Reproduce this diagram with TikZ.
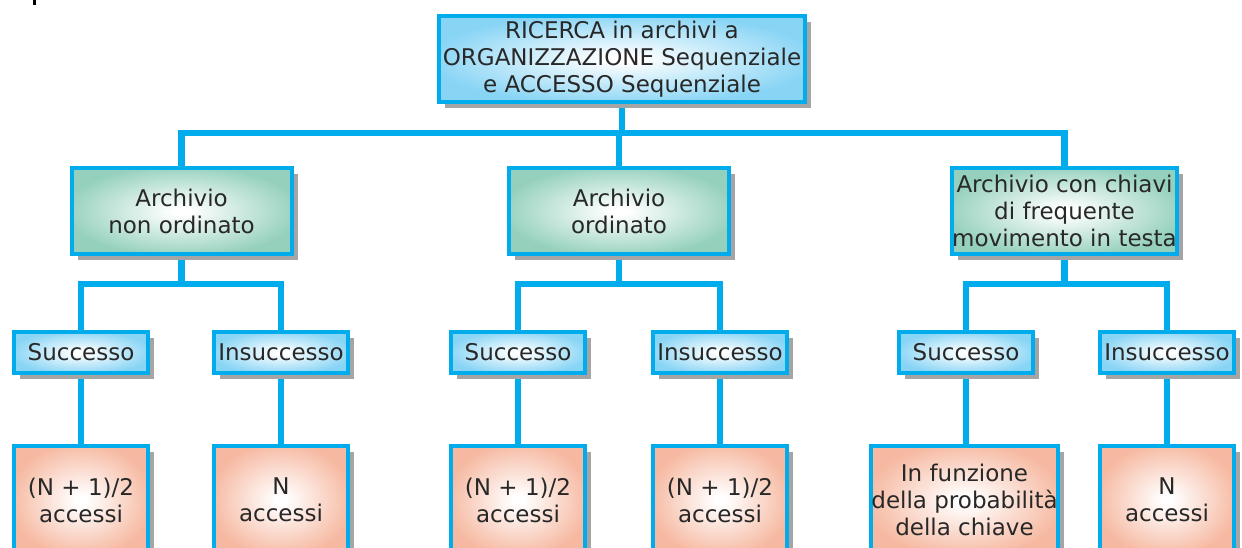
\documentclass[tikz,border=0pt]{standalone}
\usepackage{fontspec}
\setmainfont{DejaVu Sans}
\usetikzlibrary{shadows,backgrounds}

\definecolor{linkblue}{RGB}{0,172,236}
\definecolor{headfill}{RGB}{135,212,245}
\definecolor{catfill}{RGB}{148,208,188}
\definecolor{outfill}{RGB}{246,184,160}
\definecolor{shadowgray}{RGB}{165,165,165}
\definecolor{ink}{RGB}{40,40,40}

% soft white glow in the middle of each box
\pgfdeclareradialshading{glowhead}{\pgfpoint{0bp}{0bp}}{color(0bp)=(white); color(2bp)=(white); color(27bp)=(headfill); color(50bp)=(headfill)}
\pgfdeclareradialshading{glowcat}{\pgfpoint{0bp}{0bp}}{color(0bp)=(white); color(2bp)=(white); color(27bp)=(catfill); color(50bp)=(catfill)}
\pgfdeclareradialshading{glowout}{\pgfpoint{0bp}{0bp}}{color(0bp)=(white); color(2bp)=(white); color(27bp)=(outfill); color(50bp)=(outfill)}

\tikzset{
  box/.style={draw=linkblue, line width=4pt, align=center,
    inner sep=0pt, text=ink, font=\fontsize{23}{27}\selectfont,
    drop shadow={shadow xshift=6pt, shadow yshift=-6pt, fill=shadowgray, opacity=1}},
  headbox/.style={box, shading=glowhead, minimum width=366pt, minimum height=86pt},
  catbox/.style={box, shading=glowcat, minimum width=220pt, minimum height=86pt},
  casebox/.style={box, shading=glowhead, minimum width=134pt, minimum height=41pt},
  costbox/.style={box, shading=glowout, minimum width=134pt, minimum height=108pt},
  conn/.style={draw=linkblue, line width=6.5pt},
}

\begin{document}
\begin{tikzpicture}[x=1pt, y=-1pt]
  \useasboundingbox (0,0) rectangle (1242,548);
  \clip (0,0) rectangle (1242,548);
  \fill[black] (33,0) rectangle (36,5);

  % root
  \node[headbox] (root) at (622,59) {RICERCA in archivi a\\ORGANIZZAZIONE Sequenziale\\e ACCESSO Sequenziale};

  % file categories
  \node[catbox] (catA) at (181.5,211) {Archivio\\non ordinato};
  \node[catbox] (catB) at (619,211) {Archivio\\ordinato};
  \node[catbox] (catC) at (1064.5,211) {Archivio con chiavi\\di frequente\\movimento in testa};

  % outcomes
  \node[casebox] (sA) at (81,352.5) {Successo};
  \node[casebox] (iA) at (281,352.5) {Insuccesso};
  \node[casebox] (sB) at (518,352.5) {Successo};
  \node[casebox] (iB) at (720,352.5) {Insuccesso};
  \node[casebox] (sC) at (966,352.5) {Successo};
  \node[casebox] (iC) at (1167,352.5) {Insuccesso};

  % access costs
  \node[costbox] (csA) at (81,500) {(N + 1)/2\\accessi};
  \node[costbox] (ciA) at (281,500) {N\\accessi};
  \node[costbox] (csB) at (518,500) {(N + 1)/2\\accessi};
  \node[costbox] (ciB) at (720,500) {(N + 1)/2\\accessi};
  \node[costbox, minimum width=187pt] (csC) at (964.5,500) {In funzione\\della probabilità\\della chiave};
  \node[costbox] (ciC) at (1167,500) {N\\accessi};

  \coordinate (bus0) at (0,133);
  \coordinate (bus1) at (0,284);

  \begin{scope}[on background layer]
    \draw[conn] (root.south) -- (root.south |- bus0);
    \draw[conn] (catA.north) |- (catC.north |- bus0) -- (catC.north);
    \draw[conn] (catB.north) -- (catB.north |- bus0);

    \draw[conn] (catA.south) -- (catA.south |- bus1);
    \draw[conn] (sA.north) |- (iA.north |- bus1) -- (iA.north);
    \draw[conn] (catB.south) -- (catB.south |- bus1);
    \draw[conn] (sB.north) |- (iB.north |- bus1) -- (iB.north);
    \draw[conn] (catC.south) -- (catC.south |- bus1);
    \draw[conn] (sC.north) |- (iC.north |- bus1) -- (iC.north);

    \draw[conn] (sA) -- (csA);
    \draw[conn] (iA) -- (ciA);
    \draw[conn] (sB) -- (csB);
    \draw[conn] (iB) -- (ciB);
    \draw[conn] (sC.south) -- (sC.south |- csC.north);
    \draw[conn] (iC) -- (ciC);
  \end{scope}
\end{tikzpicture}
\end{document}
